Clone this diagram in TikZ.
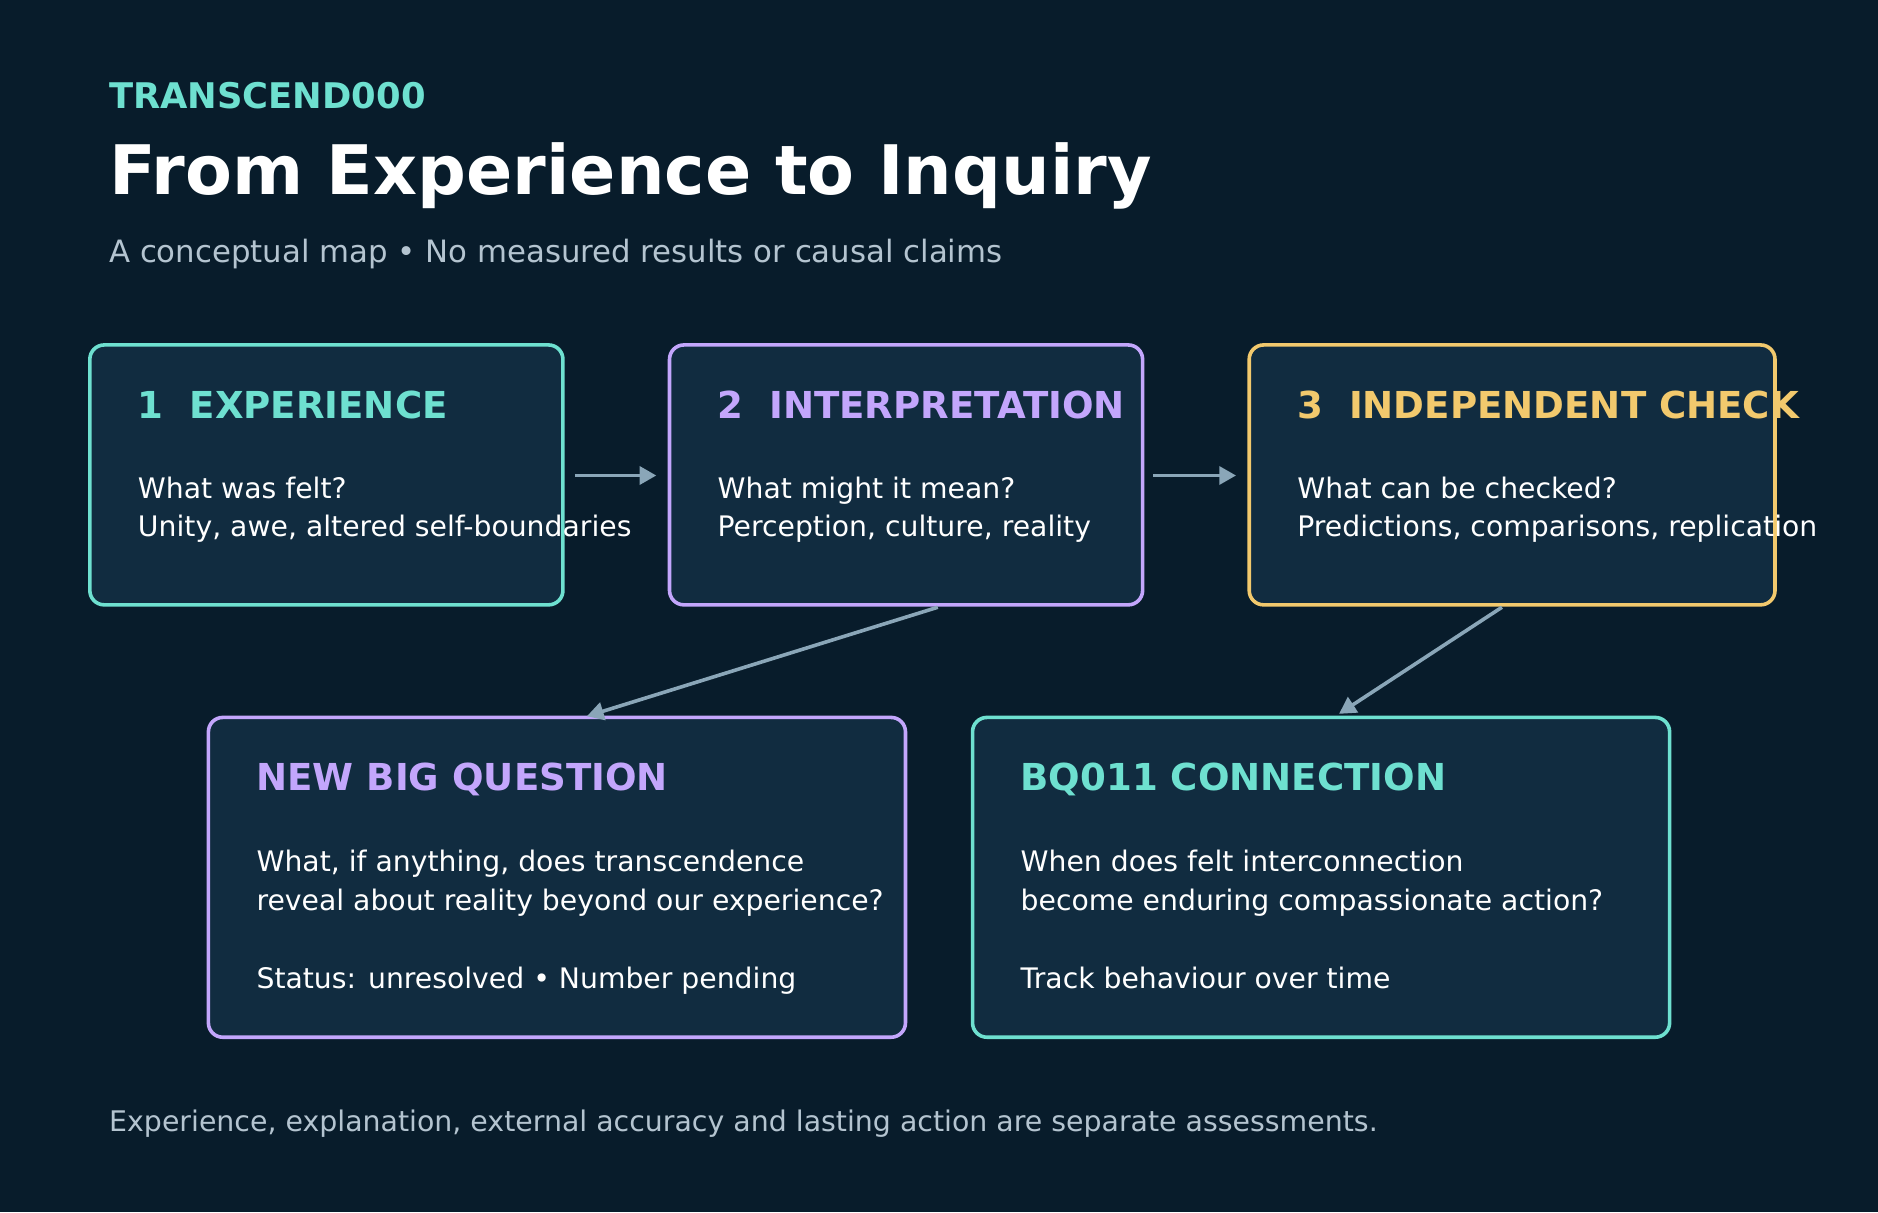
\documentclass[tikz,border=0pt]{standalone}
\usepackage{fontspec}
\setmainfont{DejaVu Sans}
\usetikzlibrary{arrows.meta}
\definecolor{bg}{HTML}{081C2B}
\definecolor{boxf}{HTML}{112C40}
\definecolor{teal}{HTML}{6EE0D0}
\definecolor{purp}{HTML}{C3A6FC}
\definecolor{yell}{HTML}{F2C96D}
\definecolor{arr}{HTML}{8AA6B8}
\definecolor{sub}{HTML}{B4C4D0}
\tikzset{
  box/.style={draw=#1, line width=3pt, fill=boxf, rounded corners=12pt},
  head/.style={anchor=base west, font=\fontsize{31}{36}\selectfont\bfseries, text=#1, inner sep=0},
  body/.style={anchor=base west, font=\fontsize{23.6}{32}\selectfont, text=white, inner sep=0},
  conn/.style={draw=arr, line width=3pt, -{Triangle[length=14pt,width=15pt]}}
}
\begin{document}
\begin{tikzpicture}[x=1pt,y=-1pt]
\fill[bg] (0,0) rectangle (1568,1012);
\useasboundingbox (0,0) rectangle (1568,1012);
\node[anchor=base west,inner sep=0,text=teal,font=\fontsize{29.5}{34}\selectfont\bfseries] (tag) at (91,91) {TRANSCEND000};
\node[anchor=base west,inner sep=0,text=white,font=\fontsize{57}{64}\selectfont\bfseries] (title) at (91,162) {From Experience to Inquiry};
\node[anchor=base west,inner sep=0,text=sub,font=\fontsize{25.7}{30}\selectfont] (subt) at (91,219) {A conceptual map • No measured results or causal claims};

\draw[box=teal] (75,288) rectangle (470,505);
\draw[box=purp] (559,288) rectangle (954,505);
\draw[box=yell] (1043,288) rectangle (1482,505);
\draw[box=purp] (174,599) rectangle (756,866);
\draw[box=teal] (812,599) rectangle (1394,866);
\coordinate (b1e) at (480,397); \coordinate (b2w) at (548,397);
\coordinate (b2e) at (963,397); \coordinate (b3w) at (1032,397);
\coordinate (b2s) at (783,507); \coordinate (b4n) at (490,598);
\coordinate (b3s) at (1254,507); \coordinate (b5n) at (1118,596);

\node[head=teal] (h1) at (115,349) {1\ \ EXPERIENCE};
\node[body] (t1a) at (115,416) {What was felt?};
\node[body] (t1b) at (115,448) {Unity, awe, altered self-boundaries};
\node[head=purp] (h2) at (599,349) {2\ \ INTERPRETATION};
\node[body] (t2a) at (599,416) {What might it mean?};
\node[body] (t2b) at (599,448) {Perception, culture, reality};
\node[head=yell] (h3) at (1083,349) {3\ \ INDEPENDENT CHECK};
\node[body] (t3a) at (1083,416) {What can be checked?};
\node[body] (t3b) at (1083,448) {Predictions, comparisons, replication};
\node[head=purp] (h4) at (214,660) {NEW BIG QUESTION};
\node[body] (t4a) at (214,728) {What, if anything, does transcendence};
\node[body] (t4b) at (214,760) {reveal about reality beyond our experience?};
\node[body] (t4c) at (214,825) {Status: unresolved • Number pending};
\node[head=teal] (h5) at (852,660) {BQ011 CONNECTION};
\node[body] (t5a) at (852,728) {When does felt interconnection};
\node[body] (t5b) at (852,760) {become enduring compassionate action?};
\node[body] (t5c) at (852,825) {Track behaviour over time};

\draw[conn] (b1e) -- (b2w);
\draw[conn] (b2e) -- (b3w);
\draw[conn] (b2s) -- (b4n);
\draw[conn] (b3s) -- (b5n);

\node[anchor=base west,inner sep=0,text=sub,font=\fontsize{23.7}{28}\selectfont] (foot) at (91,945) {Experience, explanation, external accuracy and lasting action are separate assessments.};
\end{tikzpicture}
\end{document}
